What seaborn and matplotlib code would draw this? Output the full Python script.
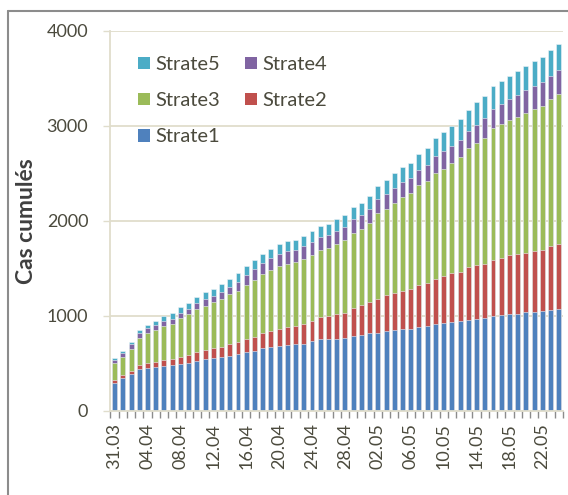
import numpy as np
import pandas as pd
import matplotlib.pyplot as plt
from matplotlib.patches import Patch
from matplotlib.lines import Line2D
import seaborn as sns

# --- DATA ---
dates = pd.date_range('2020-03-31', periods=55).strftime('%d.%m').tolist()

strate1 = [288, 339, 381, 433, 444, 454, 472, 482, 493, 504,
           525, 542, 553, 560, 574, 595, 612, 623, 661, 668,
           675, 693, 696, 703, 728, 749, 749, 758, 767, 784,
           791, 812, 819, 833, 844, 854, 861, 875, 893, 907,
           917, 928, 939, 949, 967, 974, 991, 1002, 1012, 1019,
           1033, 1040, 1044, 1058, 1072]
strate2 = [30, 31, 35, 49, 60, 57, 63, 64, 74, 80,
           94, 95, 105, 110, 130, 130, 141, 151, 155, 169,
           183, 189, 197, 208, 218, 239, 246, 258, 263, 298,
           323, 334, 358, 383, 396, 407, 421, 450, 453, 479,
           497, 520, 522, 568, 568, 575, 600, 607, 625, 632,
           632, 646, 652, 674, 684]
strate3 = [181, 193, 231, 278, 308, 336, 354, 368, 403, 432,
           446, 467, 484, 505, 519, 533, 575, 603, 621, 645,
           660, 667, 674, 691, 698, 701, 716, 740, 765, 786,
           797, 826, 900, 907, 951, 993, 1007, 1048, 1073, 1116,
           1133, 1157, 1207, 1246, 1281, 1326, 1383, 1407, 1424, 1442,
           1473, 1488, 1516, 1547, 1576]
strate4 = [33, 46, 53, 52, 53, 49, 57, 53, 56, 52,
           63, 66, 67, 74, 81, 95, 98, 116, 119, 123,
           129, 130, 126, 133, 133, 141, 136, 137, 140, 146,
           145, 151, 151, 156, 155, 158, 158, 157, 167, 177,
           188, 181, 186, 186, 196, 207, 207, 214, 221, 230,
           239, 245, 249, 249, 256]
strate5 = [21, 14, 21, 35, 39, 46, 49, 56, 60, 67,
           70, 77, 73, 83, 80, 91, 99, 98, 98, 102,
           106, 105, 109, 109, 116, 112, 123, 126, 126, 126,
           130, 138, 140, 146, 154, 158, 164, 175, 184, 193,
           200, 210, 218, 221, 239, 234, 238, 244, 248, 254,
           253, 263, 264, 270, 270]

levels = ['Strate1', 'Strate2', 'Strate3', 'Strate4', 'Strate5']
colors = {'Strate1': '#4F81BD', 'Strate2': '#C0504D', 'Strate3': '#9BBB59',
          'Strate4': '#8064A2', 'Strate5': '#4BACC6'}

df = pd.DataFrame({'date': dates, 'Strate1': strate1, 'Strate2': strate2,
                   'Strate3': strate3, 'Strate4': strate4, 'Strate5': strate5})
cum = df[levels].cumsum(axis=1)

# --- STYLE ---
sns.set_style('white')
plt.rcParams['font.family'] = ['Lato', 'DejaVu Sans']
txt = '#4b4a3d'
beige = '#e0ddcc'

fig = plt.figure(figsize=(5.68, 4.95), dpi=100)
ax = fig.add_axes([0.1945, 0.1707, 0.7965, 0.7667])

# stacked bars: draw cumulative totals from top series down
for name in reversed(levels):
    sns.barplot(x=df['date'], y=cum[name], color=colors[name], width=0.6,
                saturation=1, errorbar=None, edgecolor='#eef2f7', linewidth=0.4, ax=ax)

ax.set_xlim(-0.5, len(dates) - 0.5)
ax.set_ylim(0, 4000)
ax.set_yticks(range(0, 4001, 1000))
ax.set_xticks(range(0, len(dates), 4))
ax.set_xticklabels(dates[::4], rotation=90)
ax.set_xticks(np.arange(-0.5, len(dates), 1), minor=True)

ax.tick_params(axis='x', which='major', length=0, pad=9, labelsize=13, labelcolor=txt)
ax.tick_params(axis='x', which='minor', bottom=True, length=5, width=1, color='#8c8c8c')
ax.tick_params(axis='y', left=True, length=5, width=1, color=beige, labelsize=13,
               labelcolor=txt, pad=11)

ax.grid(axis='y', color=beige, lw=1.3)
ax.set_axisbelow(True)
for s in ['top', 'right']:
    ax.spines[s].set_visible(False)
for s in ['left', 'bottom']:
    ax.spines[s].set_color(beige)
    ax.spines[s].set_linewidth(1.3)

ax.set_xlabel('')
ax.set_ylabel('Cas cumulés', fontsize=16.5, fontweight='bold', color='#3f3f3f', labelpad=7)

# legend rows: Strate5 Strate4 / Strate3 Strate2 / Strate1
order = ['Strate5', 'Strate3', 'Strate1', 'Strate4', 'Strate2']
handles = [Patch(facecolor=colors[n], edgecolor='none') for n in order]
ax.legend(handles, order, ncol=2, loc='upper left', bbox_to_anchor=(0.06, 0.934),
          frameon=False, fontsize=14.5, labelcolor=txt, handlelength=0.6, handleheight=0.6,
          labelspacing=0.95, columnspacing=1.2, handletextpad=0.3, borderpad=0, borderaxespad=0)

# outer chart frame
fig.add_artist(Line2D([8.3 / 568, 8.3 / 568], [0, 1 - 11 / 495], transform=fig.transFigure,
                      color='#8c8c8c', lw=1.5))
fig.add_artist(Line2D([8 / 568, 1], [1 - 11 / 495, 1 - 11 / 495], transform=fig.transFigure,
                      color='#8c8c8c', lw=1.5))

fig.savefig('out.png', dpi=100)
